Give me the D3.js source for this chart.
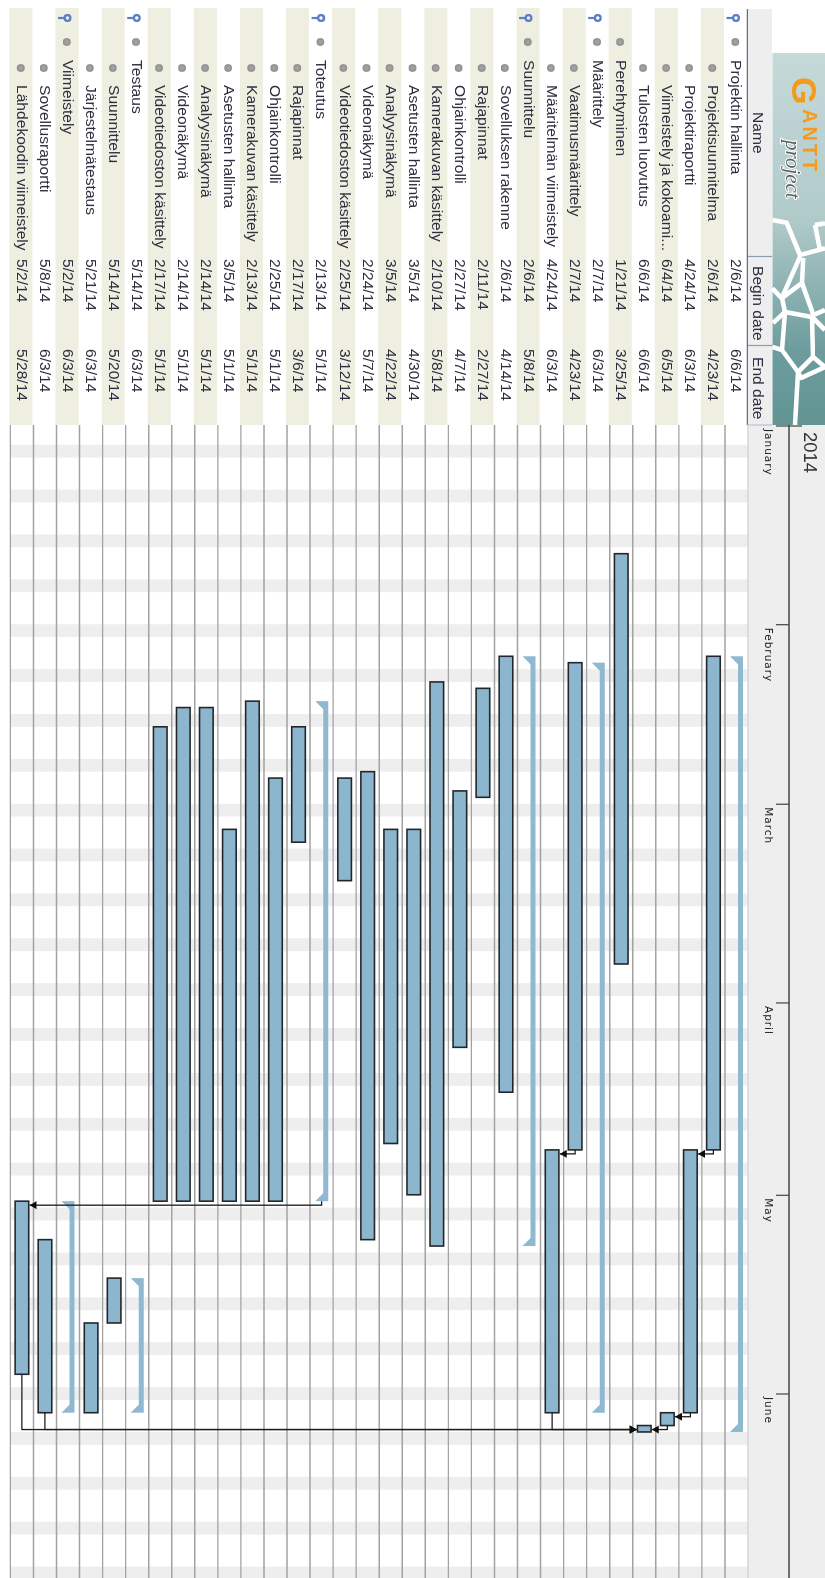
<!DOCTYPE html>
<html>
<head>
<meta charset="utf-8">
<script src="https://cdn.jsdelivr.net/npm/d3@7"></script>
<style>
  html, body { margin: 0; padding: 0; background: #fff; }
  svg { display: block; }
  text { font-family: "Liberation Sans", Arial, sans-serif; }
</style>
</head>
<body>
<div id="chart"></div>
<script>
// task table, top to bottom
var taskNames = ["Projektin hallinta","Projektisuunnitelma","Projektiraportti","Viimeistely ja kokoami...","Tulosten luovutus","Perehtyminen","Määrittely","Vaatimusmäärittely","Määritelmän viimeistely","Suunnittelu","Sovelluksen rakenne","Rajapinnat","Ohjainkontrolli","Kamerakuvan käsittely","Asetusten hallinta","Analyysinäkymä","Videonäkymä","Videotiedoston käsittely","Toteutus","Rajapinnat","Ohjainkontrolli","Kamerakuvan käsittely","Asetusten hallinta","Analyysinäkymä","Videonäkymä","Videotiedoston käsittely","Testaus","Suunnittelu","Järjestelmätestaus","Viimeistely","Sovellusraportti","Lähdekoodin viimeistely"];
var beginDates = ["2/6/14","2/6/14","4/24/14","6/4/14","6/6/14","1/21/14","2/7/14","2/7/14","4/24/14","2/6/14","2/6/14","2/11/14","2/27/14","2/10/14","3/5/14","3/5/14","2/24/14","2/25/14","2/13/14","2/17/14","2/25/14","2/13/14","3/5/14","2/14/14","2/14/14","2/17/14","5/14/14","5/14/14","5/21/14","5/2/14","5/8/14","5/2/14"];
var endDates = ["6/6/14","4/23/14","6/3/14","6/5/14","6/6/14","3/25/14","6/3/14","4/23/14","6/3/14","5/8/14","4/14/14","2/27/14","4/7/14","5/8/14","4/30/14","4/22/14","5/7/14","3/12/14","5/1/14","3/6/14","5/1/14","5/1/14","5/1/14","5/1/14","5/1/14","5/1/14","6/3/14","5/20/14","6/3/14","6/3/14","6/3/14","5/28/14"];
var taskLevels = [0,1,1,1,1,0,0,1,1,0,1,1,1,1,1,1,1,1,0,1,1,1,1,1,1,1,0,1,1,0,1,1];
var summaryRows = [0,6,9,18,26,29];
var depFrom = [1,2,3,7,18,8,30,31];
var depTo = [2,3,4,8,31,4,4,4];
var monthNames = ["January","February","March","April","May","June"];
var yearLabels = ["2014"];
var columnTitles = ["Name","Begin date","End date"];

var W = 825, H = 1578;
var parseDate = d3.utcParse("%m/%d/%y");
var rowStep = 23.05;

var svg = d3.select("#chart").append("svg")
    .attr("width", W)
    .attr("height", H);

// the source screenshot is soft, a small blur gets close to it
var defs = svg.append("defs");
defs.append("filter")
    .attr("id", "soft")
    .attr("filterUnits", "userSpaceOnUse")
    .attr("x", -10).attr("y", -10).attr("width", H + 20).attr("height", W + 20)
    .append("feGaussianBlur")
    .attr("stdDeviation", 0.45);

var logoGrad = defs.append("linearGradient")
    .attr("id", "logoGrad")
    .attr("gradientUnits", "userSpaceOnUse")
    .attr("x1", 53).attr("x2", 425).attr("y1", 0).attr("y2", 0);
logoGrad.append("stop").attr("offset", "0").attr("stop-color", "#c6d9d9");
logoGrad.append("stop").attr("offset", "0.45").attr("stop-color", "#b0caca");
logoGrad.append("stop").attr("offset", "0.8").attr("stop-color", "#6d9c9c");
logoGrad.append("stop").attr("offset", "1").attr("stop-color", "#629494");

var dotGrad = defs.append("radialGradient").attr("id", "dotGrad");
dotGrad.append("stop").attr("offset", "0").attr("stop-color", "#a8a8a8");
dotGrad.append("stop").attr("offset", "1").attr("stop-color", "#8e8e8e");

// everything is drawn as a normal gantt, then turned a quarter clockwise
var root = svg.append("g")
    .attr("transform", "translate(" + W + ",0) rotate(90)")
    .attr("filter", "url(#soft)");

var x = d3.scaleUtc()
    .domain([parseDate("1/1/14"), parseDate("6/1/14")])
    .range([425.5, 1393.5]);
var chartEnd = x.invert(H + 5);

var rowIds = d3.range(taskNames.length);
var yChart = d3.scaleBand()
    .domain(rowIds)
    .range([77, 77 + rowStep * rowIds.length]);
var yTable = d3.scaleBand()
    .domain(rowIds)
    .range([78, 78 + rowStep * rowIds.length]);

function starts(i) { return parseDate(beginDates[i]); }
function ends(i) { return d3.utcDay.offset(parseDate(endDates[i]), 1); }
function mid(i) { return yChart(i) + yChart.bandwidth() / 2; }

// table text is a bit wider than it is tall in the source
function tableText(sel, px, py) {
    return sel.attr("transform", function(d, i) {
            var tx = typeof px == "function" ? px(d, i) : px;
            return "translate(" + tx + "," + py + ") scale(1.1,1)";
        })
        .attr("font-size", 14.2)
        .attr("fill", "#2e2e40");
}

//calendar header background
root.append("rect")
    .attr("x", 425).attr("y", 0)
    .attr("width", H - 425).attr("height", 77)
    .attr("fill", "#eeeeee");

//weekends
root.append("g").selectAll("rect")
    .data(d3.utcSaturday.range(parseDate("1/1/14"), chartEnd))
    .enter().append("rect")
    .attr("x", function(d) { return x(d); })
    .attr("y", 77)
    .attr("width", function(d) { return x(d3.utcDay.offset(d, 2)) - x(d); })
    .attr("height", rowStep * rowIds.length)
    .attr("fill", "#eeeeee");

//row lines
root.append("g").selectAll("line")
    .data(d3.range(rowIds.length + 1))
    .enter().append("line")
    .attr("x1", 425).attr("x2", H)
    .attr("y1", function(d) { return 77 + rowStep * d; })
    .attr("y2", function(d) { return 77 + rowStep * d; })
    .attr("stroke", function(d) { return d == 0 ? "#d6d6d6" : "#a2a2a2"; })
    .attr("stroke-width", 1.4);

//table bands
root.append("g").selectAll("rect")
    .data(rowIds.filter(function(d) { return d % 2 == 1; }))
    .enter().append("rect")
    .attr("x", 8).attr("width", 417)
    .attr("y", function(d) { return yTable(d); })
    .attr("height", yTable.bandwidth())
    .attr("fill", "#eeefe0");

//table text
var rows = root.append("g").selectAll("g")
    .data(rowIds)
    .enter().append("g")
    .attr("transform", function(d) { return "translate(0," + yTable(d) + ")"; });

rows.append("circle")
    .attr("cx", function(d) { return taskLevels[d] ? 68 : 42; })
    .attr("cy", 11.7)
    .attr("r", 3.9)
    .attr("fill", "url(#dotGrad)");

tableText(rows.append("text"), function(d) { return taskLevels[d] ? 85 : 60; }, 15.6)
    .text(function(d) { return taskNames[d]; });
tableText(rows.append("text"), 259, 15.6)
    .text(function(d) { return beginDates[d]; });
tableText(rows.append("text"), 349, 15.6)
    .text(function(d) { return endDates[d]; });

//little blue key on the summary rows
var keys = rows.filter(function(d) { return summaryRows.indexOf(d) >= 0; })
    .append("g")
    .attr("transform", "translate(18,11)");
keys.append("circle")
    .attr("r", 2.9)
    .attr("fill", "none")
    .attr("stroke", "#5b7ec6")
    .attr("stroke-width", 2.3);
keys.append("line")
    .attr("y1", 3).attr("y2", 9.5)
    .attr("stroke", "#5b7ec6")
    .attr("stroke-width", 2.2);

//table header
var titleX = [9, 257, 346];
var titleEnd = [256.5, 345.5, 425];
var titleText = [112, 266, 357];
var head = root.append("g").selectAll("g")
    .data(columnTitles)
    .enter().append("g");
head.append("rect")
    .attr("x", function(d, i) { return titleX[i]; })
    .attr("y", 53)
    .attr("width", function(d, i) { return titleEnd[i] - titleX[i]; })
    .attr("height", 24.5)
    .attr("fill", "#eeeeee");
tableText(head.append("text"), function(d, i) { return titleText[i]; }, 72)
    .text(function(d) { return d; });
head.filter(function(d, i) { return i > 0; }).append("line")
    .attr("x1", function(d, i) { return titleX[i + 1] - 0.5; })
    .attr("x2", function(d, i) { return titleX[i + 1] - 0.5; })
    .attr("y1", 53).attr("y2", 77.5)
    .attr("stroke", "#8c9db0")
    .attr("stroke-width", 1.2);
root.append("line")
    .attr("x1", 9).attr("x2", 425)
    .attr("y1", 77.6).attr("y2", 77.6)
    .attr("stroke", "#5f7186")
    .attr("stroke-width", 1.3);
root.append("line")
    .attr("x1", 425).attr("x2", 425)
    .attr("y1", 53).attr("y2", 77.6)
    .attr("stroke", "#b8c4d0")
    .attr("stroke-width", 1.2);

//logo, right edge of the picture
var logo = root.append("g");
logo.append("rect")
    .attr("x", 53).attr("y", 0)
    .attr("width", 372).attr("height", 52.5)
    .attr("fill", "url(#logoGrad)");
var cracks = [
    "M220,52.7L222.7,38.3L255,25L248.3,0",
    "M225,10L223.3,0M225,10L250,5",
    "M288.3,52.7L298.3,43.3L256.7,25",
    "M258,21.7L283,23L298,43",
    "M283,23L315,11.7L310,0",
    "M298,43L312,40L323,52",
    "M312,40L317,13L330,0M317,13L357,12L367,0",
    "M312,40L350,43L372,27L357,12",
    "M350,43L347,52.5",
    "M372,27L425,30",
    "M367,0L378,24L372,27"
];
logo.append("g").selectAll("path")
    .data(cracks)
    .enter().append("path")
    .attr("d", function(d) { return d; })
    .attr("fill", "none")
    .attr("stroke", "#ffffff")
    .attr("stroke-width", 4.6)
    .attr("stroke-linejoin", "round");
logo.append("text")
    .attr("x", 77).attr("y", 33)
    .attr("fill", "#f49b1c")
    .attr("font-weight", "bold")
    .attr("font-size", 35.5)
    .text("G");
logo.append("text")
    .attr("x", 109).attr("y", 22)
    .attr("fill", "#f49b1c")
    .attr("font-weight", "bold")
    .attr("font-size", 20)
    .attr("letter-spacing", 3)
    .text("ANTT");
logo.append("text")
    .attr("x", 140).attr("y", 39)
    .attr("font-size", 21)
    .attr("font-style", "italic")
    .style("font-family", "'Liberation Serif', serif")
    .attr("fill", "#5f6060")
    .attr("stroke", "#ffffff")
    .attr("stroke-width", 2)
    .attr("paint-order", "stroke")
    .text("project");

//calendar axes
var monthAxis = d3.axisBottom(x)
    .tickValues(d3.utcMonth.range(parseDate("1/1/14"), parseDate("7/1/14")))
    .tickSize(13)
    .tickFormat(function(d, i) { return monthNames[i]; });
var monthG = root.append("g")
    .attr("transform", "translate(0,36)")
    .call(monthAxis);
monthG.select(".domain").remove();
monthG.selectAll("line").attr("stroke", "#333").attr("stroke-width", 1.1);
monthG.selectAll("text")
    .attr("x", 3).attr("y", 24).attr("dy", 0)
    .attr("text-anchor", "start")
    .attr("fill", "#222")
    .attr("font-size", 10.5)
    .attr("letter-spacing", 1)
    .style("font-family", "'DejaVu Sans', sans-serif");

root.append("line")
    .attr("x1", 425).attr("x2", H)
    .attr("y1", 36).attr("y2", 36)
    .attr("stroke", "#444")
    .attr("stroke-width", 1.3);

var yearAxis = d3.axisTop(x)
    .tickValues([parseDate("1/1/14")])
    .tickSize(13)
    .tickFormat(function(d, i) { return yearLabels[i]; });
var yearG = root.append("g")
    .attr("transform", "translate(0,36)")
    .call(yearAxis);
yearG.select(".domain").remove();
yearG.selectAll("line").attr("stroke", "#333").attr("stroke-width", 1.1);
yearG.selectAll("text")
    .attr("x", 6).attr("y", -15).attr("dy", 0)
    .attr("text-anchor", "start")
    .attr("fill", "#333")
    .attr("font-size", 18.5)
    .style("font-family", "'Liberation Sans', sans-serif");

//dependency lines under the bars
var barH = 13.6;
var depIds = d3.range(depFrom.length);
function depX(i) { return x(starts(depTo[i])) + 4; }
function depTip(i) {
    // comes in from whichever side the other task is on
    return depFrom[i] < depTo[i] ? mid(depTo[i]) - barH / 2 - 0.8 : mid(depTo[i]) + barH / 2 + 0.8;
}

//summary brackets
root.append("g").selectAll("path")
    .data(summaryRows)
    .enter().append("path")
    .attr("fill", "#8fb8d1")
    .attr("d", function(d) {
        var x0 = x(starts(d)), x1 = x(ends(d)), t = mid(d) - 6.6;
        return d3.line()([
            [x0, t], [x1, t], [x1, t + 13], [x1 - 8, t + 5],
            [x0 + 8, t + 5], [x0, t + 13]
        ]) + "Z";
    });

//task bars
root.append("g").selectAll("rect")
    .data(rowIds.filter(function(d) { return summaryRows.indexOf(d) < 0; }))
    .enter().append("rect")
    .attr("x", function(d) { return x(starts(d)); })
    .attr("y", function(d) { return mid(d) - barH / 2; })
    .attr("width", function(d) { return x(ends(d)) - x(starts(d)); })
    .attr("height", barH)
    .attr("fill", "#8cb5ce")
    .attr("stroke", "#23272b")
    .attr("stroke-width", 1.6);

root.append("g").selectAll("path")
    .data(depIds)
    .enter().append("path")
    .attr("fill", "none")
    .attr("stroke", "#1c1c1c")
    .attr("stroke-width", 1.3)
    .attr("d", function(i) {
        return d3.line()([
            [x(ends(depFrom[i])), mid(depFrom[i])],
            [depX(i), mid(depFrom[i])],
            [depX(i), depTip(i)]
        ]);
    });

root.append("g").selectAll("path")
    .data(depIds)
    .enter().append("path")
    .attr("fill", "#111")
    .attr("d", function(i) {
        var dir = depFrom[i] < depTo[i] ? -1 : 1;
        return d3.line()([
            [depX(i), depTip(i)],
            [depX(i) - 4, depTip(i) + dir * 7],
            [depX(i) + 4, depTip(i) + dir * 7]
        ]) + "Z";
    });
</script>
</body>
</html>
